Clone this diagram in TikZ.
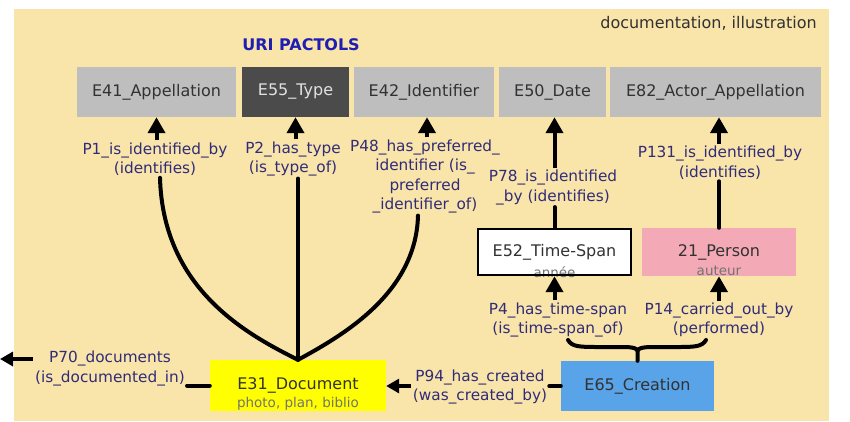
\documentclass[tikz,border=0pt]{standalone}
\usepackage{fontspec}
\setmainfont{DejaVu Sans}
\usetikzlibrary{arrows.meta,calc}
\definecolor{bg}{RGB}{249,228,170}
\definecolor{boxgray}{RGB}{190,190,190}
\definecolor{darkbox}{RGB}{75,75,75}
\definecolor{lighttext}{RGB}{225,225,225}
\definecolor{boxtext}{RGB}{50,50,50}
\definecolor{labtext}{RGB}{48,44,120}
\definecolor{uriblue}{RGB}{30,30,180}
\definecolor{pinkbox}{RGB}{244,170,182}
\definecolor{bluebox}{RGB}{89,163,232}
\definecolor{yellowbox}{RGB}{255,255,0}
\definecolor{subtext}{RGB}{115,115,115}
\begin{document}
\begin{tikzpicture}[x=1pt,y=-1pt,
  box/.style={inner sep=0pt, minimum height=50pt, text=boxtext, font=\fontsize{16}{19}\selectfont},
  lab/.style={inner sep=2pt, align=center, text=labtext, font=\fontsize{15.3}{19.5}\selectfont},
  sub/.style={inner sep=0pt, text=subtext, font=\fontsize{13.5}{16}\selectfont},
  conn/.style={line width=4pt, draw=black, line cap=round, line join=round},
  arr/.style={line width=4pt, draw=black, -{Triangle[width=17pt,length=16pt]}},
  arrs/.style={line width=4pt, draw=black, -{Triangle[width=14pt,length=13pt]}}
]
\useasboundingbox (0,0) rectangle (850,421);
\fill[white] (0,0) rectangle (850,421);
\fill[bg] (14,9) rectangle (829,421);

\node[anchor=east, inner sep=0pt, text=boxtext, font=\fontsize{16}{19}\selectfont] (docill) at (817,23) {documentation, illustration};
\node[inner sep=0pt, text=uriblue, font=\fontsize{16}{19}\selectfont\bfseries] (uri) at (301,45) {URI PACTOLS};

% top row
\node[box, fill=boxgray, minimum width=159pt] (E41) at (156.5,92) {E41\_Appellation};
\node[box, fill=darkbox, text=lighttext, minimum width=107pt] (E55) at (295.5,92) {E55\_Type};
\node[box, fill=boxgray, minimum width=140pt] (E42) at (424,92) {E42\_Identifier};
\node[box, fill=boxgray, minimum width=107pt] (E50) at (552.5,92) {E50\_Date};
\node[box, fill=boxgray, minimum width=211pt] (E82) at (715.5,92) {E82\_Actor\_Appellation};

% middle row
\node[box, fill=white, minimum width=155pt, minimum height=48pt] (E52) at (554.5,252) {E52\_Time-Span};
\node[sub] (E52s) at ($(E52.south)+(0,-4)$) {année};
\draw[line width=2pt] ($(E52.south west)+(1,-1)$) rectangle ($(E52.north east)+(-1,1)$);
\node[box, fill=pinkbox, minimum width=154pt, minimum height=48pt] (P21) at (719,252) {21\_Person};
\node[sub] (P21s) at ($(P21.south)+(0,-5)$) {auteur};

% bottom row
\node[box, fill=yellowbox, minimum width=176pt, minimum height=51pt] (E31) at (298,385.5) {E31\_Document};
\node[sub] (E31s) at ($(E31.south)+(0,-7)$) {photo, plan, biblio};
\node[box, fill=bluebox, minimum width=153pt, minimum height=50pt] (E65) at (637.5,386) {E65\_Creation};

% labels
\node[lab] (L1) at (155,159) {P1\_is\_identified\_by\\(identifies)};
\node[lab] (L2) at (293,159) {P2\_has\_type\\(is\_type\_of)};
\node[lab] (L48) at (425,176.5) {P48\_has\_preferred\_\\identifier (is\_\\preferred\\\_identifier\_of)};
\node[lab] (L78) at (553,187.5) {P78\_is\_identified\\\_by (identifies)};
\node[lab] (L131) at (720,162.5) {P131\_is\_identified\_by\\(identifies)};
\node[lab] (L4) at (558,320) {P4\_has\_time-span\\(is\_time-span\_of)};
\node[lab] (L14) at (719,320) {P14\_carried\_out\_by\\(performed)};
\node[lab] (L94) at (480,387) {P94\_has\_created\\(was\_created\_by)};
\node[lab] (L70) at (110,368.5) {P70\_documents\\(is\_documented\_in)};

% arrows to the top row
\draw[arr] (E41.south |- L1.north) -- (E41.south);
\draw[arr] (E55.south |- L2.north) -- (E55.south);
\draw[arr] ($(E42.south |- L48.north)+(3,0)$) -- ($(E42.south)+(3,0)$);
\draw[conn] (E52.north) -- (E52.north |- L78.south);
\draw[arr] (E52.north |- L78.north) -- (E52.north |- E50.south);
\draw[conn] (P21.north) -- (P21.north |- L131.south);
\draw[arr] (P21.north |- L131.north) -- (P21.north |- E82.south);

% tree from the document
\draw[conn] (E31.north) .. controls +(-50,-25) and +(3,112) .. ($(L1.south)+(5,0)$);
\draw[conn] (E31.north) -- (E31.north |- L2.south);
\draw[conn] (E31.north) .. controls +(44,-24) and +(-2,78) .. ($(L48.south)+(-7,0)$);

% creation
\draw[arr] (E52.south |- L4.north) -- (E52.south);
\draw[arr] (P21.south |- L14.north) -- (P21.south);
\coordinate (b4) at (568,340);
\coordinate (b14) at (706,340);
\coordinate (bm) at ($(E65.north)+(0,-10)$);
\draw[conn] (b4) .. controls (572,347) and (580,347) .. (600,347) -- (624,347) .. controls (634,347) and (637.5,349) .. (bm) -- (E65.north);
\draw[conn] (b14) .. controls (702,347) and (694,347) .. (676,347) -- (652,347) .. controls (641,347) and (637.5,349) .. (bm);

\draw[conn] (E65.west) -- (E65.west -| L94.east);
\draw[arrs] (L94.west |- E65.west) -- (E65.west -| E31.east);

\draw[conn] (E31.west) -- (E31.west -| L70.east);
\coordinate (out) at (0,359);
\draw[arrs] (out -| L70.west) -- (out);
\end{tikzpicture}
\end{document}
